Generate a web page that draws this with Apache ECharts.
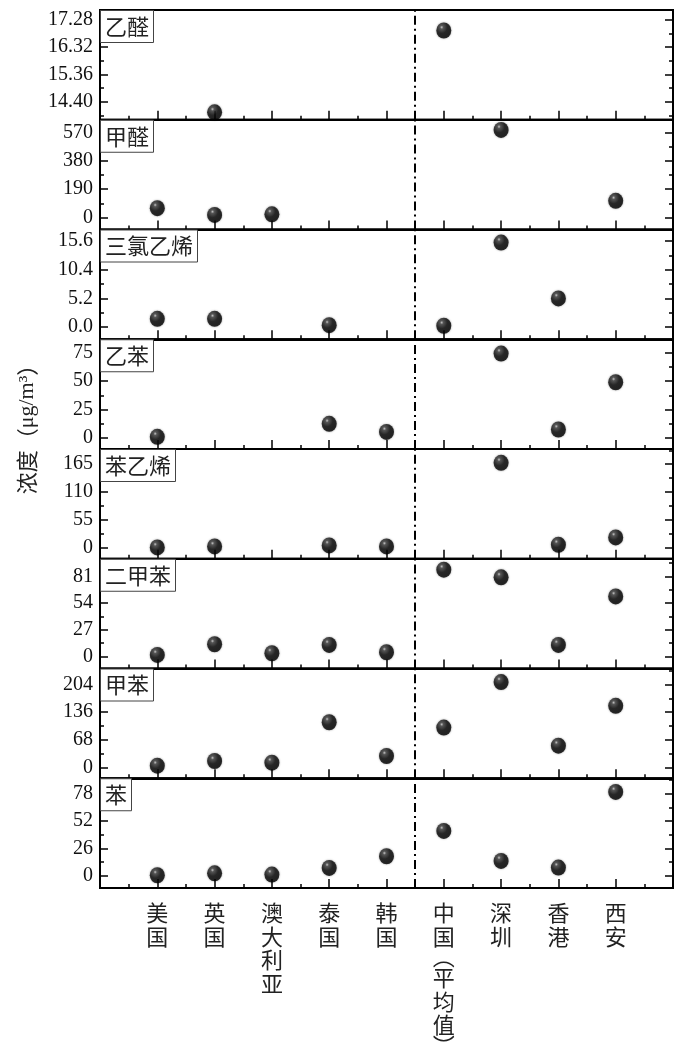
<!DOCTYPE html>
<html><head><meta charset="utf-8">
<script src="https://cdn.jsdelivr.net/npm/echarts@6/dist/echarts.min.js"></script>
<style>html,body{margin:0;padding:0;background:#fff}#c{width:678px;height:1053px}</style>
</head><body><div id="c"></div>
<script>
// ---- data ----
const categories = ['美国','英国','澳大利亚','泰国','韩国','中国（平均值）','深圳','香港','西安'];
const panelNames = ['乙醛','甲醛','三氯乙烯','乙苯','苯乙烯','二甲苯','甲苯','苯'];
const acetaldehyde      = [null, 14.03, null, null, null, 16.91, null, null, null];
const formaldehyde      = [63, 18, 22, null, null, null, 588, null, 112];
const trichloroethylene = [1.5, 1.5, null, 0.35, null, 0.25, 15.3, 5.2, null];
const ethylbenzene      = [0.9, null, null, 12.4, 5.3, null, 74.4, 7.4, 49.1];
const styrene           = [0, 2, null, 4, 2, null, 167.6, 5.3, 19.9];
const xylene            = [1.7, 12.5, 3.4, 11.8, 4.4, 87.8, 80, 11.8, 60.8];
const toluene           = [4.9, 16.4, 12.3, 111.4, 28.7, 98.3, 209.7, 54, 151.6];
const benzene           = [0.6, 2.5, 1.3, 7.6, 18.7, 42.8, 14.3, 7.9, 79.9];
const ticks1 = ['14.40','15.36','16.32','17.28'];
const ticks2 = ['0','190','380','570'];
const ticks3 = ['0.0','5.2','10.4','15.6'];
const ticks4 = ['0','25','50','75'];
const ticks5 = ['0','55','110','165'];
const ticks6 = ['0','27','54','81'];
const ticks7 = ['0','68','136','204'];
const ticks8 = ['0','26','52','78'];
const yTitle = '浓度（μg/m³）';

// ---- config ----
const panelValues = [acetaldehyde, formaldehyde, trichloroethylene, ethylbenzene, styrene, xylene, toluene, benzene];
const panelTicks = [ticks1, ticks2, ticks3, ticks4, ticks5, ticks6, ticks7, ticks8];
const yRanges = [[13.77,17.63],[-80,656],[-2.19,17.67],[-9.8,87],[-22.4,195],[-12,98.8],[-25.8,243],[-11.5,92.9]];
const TOP = 10, H = 109.75, LEFT = 100, RIGHT = 5;

const black = '#000';
const grids = [], xAxes = [], yAxes = [], series = [], titles = [];

function vertical(name) {
  return name.split('').map(c => c === '（' ? '{p|︵}' : c === '）' ? '{p|︶}' : '{c|' + c + '}').join('\n');
}

panelValues.forEach((vals, i) => {
  const top = TOP + i * H;
  grids.push({left: LEFT, right: RIGHT, top: top, height: H, show: true, borderColor: black, borderWidth: 2,
    backgroundColor: 'transparent', containLabel: false, outerBoundsMode: 'none'});
  const isLast = i === panelValues.length - 1;
  xAxes.push({
    gridIndex: i, type: 'value', min: 0, max: 10, interval: 1, position: 'bottom',
    axisLine: {show: true, onZero: false, lineStyle: {color: black, width: 2}},
    axisTick: {show: true, inside: true, length: 9, lineStyle: {color: black, width: 1.5}},
    minorTick: {show: true, splitNumber: 2, length: 4, lineStyle: {color: black, width: 1.5}},
    splitLine: {show: false},
    axisLabel: isLast ? {
      show: true, margin: 13, color: '#222', fontSize: 22,
      fontFamily: 'Noto Sans CJK SC', verticalAlign: 'top',
      rich: {
        c: {fontSize: 22, lineHeight: 23.5, fontFamily: 'Noto Sans CJK SC', color: '#222'},
        p: {fontSize: 22, lineHeight: 18, fontFamily: 'Noto Sans CJK SC', color: '#222'}
      },
      formatter: v => { const c = categories[Math.round(v) - 1]; return (c && Math.abs(v - Math.round(v)) < 1e-6) ? vertical(c) : ''; }
    } : {show: false}
  });
  const t = panelTicks[i];
  const majors = t.map(parseFloat);
  const step = majors[1] - majors[0];
  const [mn, mx] = yRanges[i];
  const minors = [];
  for (let k = -1; k <= majors.length; k++) {
    const v = majors[0] + (k + 0.5) * step;
    if (v > mn && v < mx) minors.push(v);
  }
  const labelFor = v => { const s = t.find(s => Math.abs(parseFloat(s) - v) < 1e-6); return s || ''; };
  const base = {gridIndex: i, type: 'value', min: mn, max: mx, splitLine: {show: false}};
  yAxes.push(Object.assign({}, base, {
    position: 'left',
    axisLine: {show: true, onZero: false, lineStyle: {color: black, width: 2}},
    axisTick: {show: true, inside: true, length: 8, customValues: majors, lineStyle: {color: black, width: 1.5}},
    axisLabel: {show: true, customValues: majors, formatter: labelFor, margin: 7, color: '#111', fontSize: 20, fontFamily: 'Liberation Serif'}
  }));
  yAxes.push(Object.assign({}, base, {
    position: 'left', axisLine: {show: false},
    axisTick: {show: true, inside: true, length: 4, customValues: minors, lineStyle: {color: black, width: 1.5}},
    axisLabel: {show: false}
  }));
  yAxes.push(Object.assign({}, base, {
    position: 'right',
    axisLine: {show: true, onZero: false, lineStyle: {color: black, width: 2}},
    axisTick: {show: true, inside: true, length: 8, customValues: majors, lineStyle: {color: black, width: 1.5}},
    axisLabel: {show: false}
  }));
  yAxes.push(Object.assign({}, base, {
    position: 'right', axisLine: {show: false},
    axisTick: {show: true, inside: true, length: 4, customValues: minors, lineStyle: {color: black, width: 1.5}},
    axisLabel: {show: false}
  }));

  const data = [];
  vals.forEach((v, j) => { if (v !== null) data.push([j + 1, v]); });
  series.push({
    type: 'scatter', xAxisIndex: i, yAxisIndex: i * 4, data: data,
    symbol: 'circle', symbolSize: [15, 16], z: 5,
    itemStyle: {
      color: {type: 'radial', x: 0.36, y: 0.3, r: 0.75, colorStops: [
        {offset: 0, color: '#cfcfcf'}, {offset: 0.15, color: '#444'}, {offset: 0.5, color: '#0a0a0a'}, {offset: 1, color: '#000'}]},
      shadowBlur: 2, shadowColor: 'rgba(0,0,0,0.5)'
    },
    markLine: {
      silent: true, symbol: 'none', label: {show: false},
      lineStyle: {color: black, width: 2, type: [9, 4, 2, 4]},
      data: [{xAxis: 5.5}]
    }
  });
  titles.push({
    text: panelNames[i], left: LEFT, top: top, padding: [3, 5],
    borderColor: '#444', borderWidth: 1, backgroundColor: '#fff', z: 10,
    textStyle: {fontSize: 22, fontWeight: 'normal', color: '#222', fontFamily: 'Noto Sans CJK SC', lineHeight: 27}
  });
});

const chart = echarts.init(document.getElementById('c'), null, {renderer: 'canvas'});
chart.setOption({
  animation: false,
  backgroundColor: '#fff',
  title: titles,
  grid: grids, xAxis: xAxes, yAxis: yAxes, series: series,
  graphic: [{
    type: 'text', x: 27, y: 424, rotation: Math.PI / 2, z: 10,
    style: {
      text: '{a|浓度（}{b|μg/m³}{a|）}',
      align: 'center', verticalAlign: 'middle', fill: '#222',
      rich: {a: {fontSize: 22, fontFamily: 'Noto Sans CJK SC', fill: '#222'}, b: {fontSize: 22, fontFamily: 'Liberation Serif', fill: '#222'}}
    }
  }]
});
</script></body></html>
